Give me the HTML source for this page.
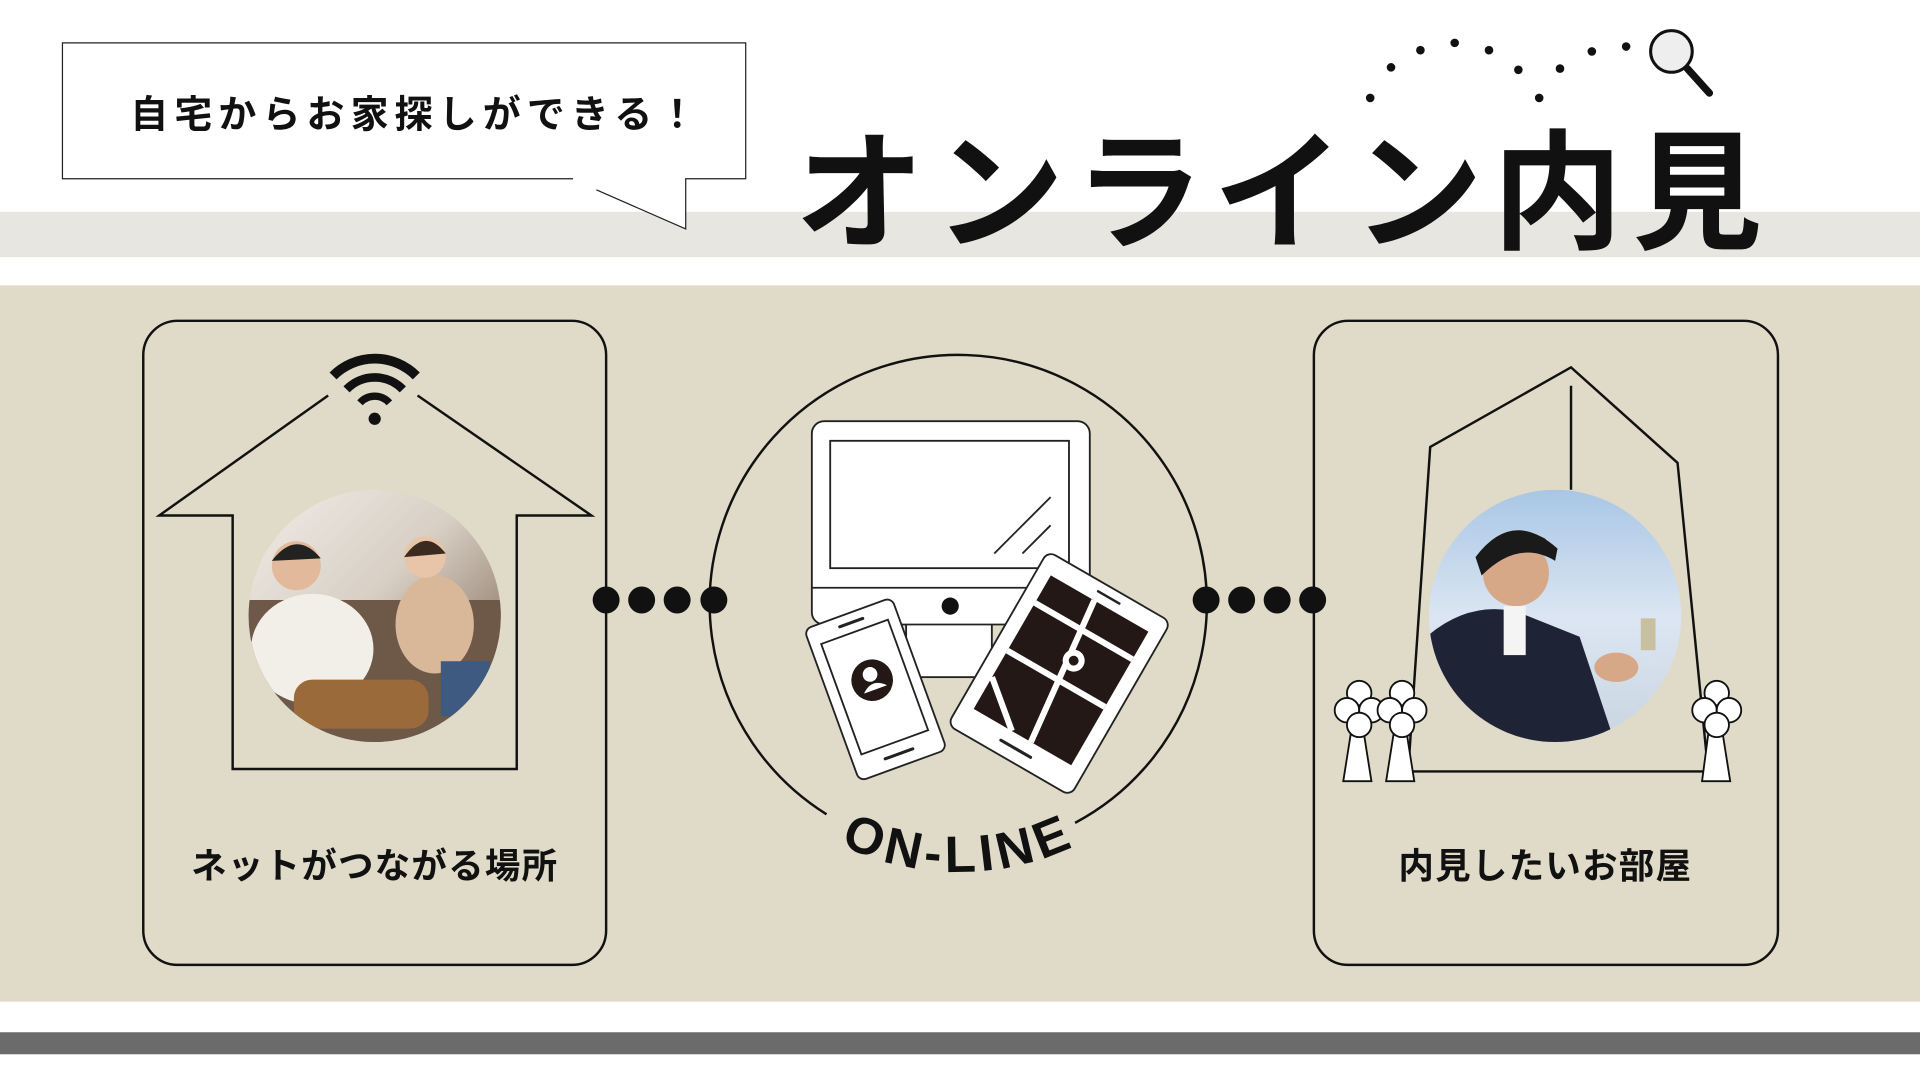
<!DOCTYPE html>
<html><head><meta charset="utf-8"><style>
html,body{margin:0;padding:0;background:#fff;width:1920px;height:1080px;overflow:hidden}
svg{display:block}
text{font-family:"Liberation Sans","Noto Sans CJK JP",sans-serif;font-weight:bold}
</style></head><body>
<svg width="1920" height="1080" viewBox="0 0 1568 882" xmlns="http://www.w3.org/2000/svg">
<defs>
<linearGradient id="p1" x1="0" y1="0" x2="1" y2="1"><stop offset="0" stop-color="#f0ede8"/><stop offset="0.45" stop-color="#d8cfc4"/><stop offset="1" stop-color="#6a5240"/></linearGradient>
<linearGradient id="p2" x1="0" y1="0" x2="0" y2="1"><stop offset="0" stop-color="#a9c6e6"/><stop offset="0.5" stop-color="#dbe6f2"/><stop offset="1" stop-color="#c8d4e0"/></linearGradient>
<clipPath id="c1"><circle cx="306" cy="503" r="103"/></clipPath>
<clipPath id="c2"><circle cx="1270" cy="503" r="103"/></clipPath>
<path id="arc" d="M 561 490 A 222 222 0 0 0 1005 490"/>
</defs>
<rect x="0" y="173" width="1568" height="37" fill="#e7e6e1"/>
<rect x="0" y="233" width="1568" height="585" fill="#dfdbc8"/>
<rect x="0" y="843" width="1568" height="18" fill="#6b6b6b"/>
<!-- bubble -->
<path d="M468 146 L51 146 L51 35 L609 35 L609 146 L560 146 L560 187 L487 155" fill="#fff" stroke="#222" stroke-width="1"/>
<text x="340" y="104" font-size="31" text-anchor="middle" letter-spacing="5" fill="#111">自宅からお家探しができる！</text>
<!-- title -->
<text x="1048" y="195" font-size="106" text-anchor="middle" letter-spacing="8" font-weight="900" fill="#111">オンライン内見</text>
<!-- dots arc + magnifier -->
<g fill="#111">
<circle cx="1119" cy="80" r="3.5"/><circle cx="1136" cy="55" r="3.5"/><circle cx="1160" cy="41" r="3.5"/><circle cx="1188" cy="35" r="3.5"/><circle cx="1216" cy="41" r="3.5"/><circle cx="1240" cy="57" r="3.5"/><circle cx="1257" cy="80" r="3.5"/><circle cx="1274" cy="56" r="3.5"/><circle cx="1300" cy="42" r="3.5"/><circle cx="1328" cy="38" r="3.5"/>
</g>
<circle cx="1365" cy="42" r="17" fill="#eee" stroke="#111" stroke-width="2.5"/>
<line x1="1378" y1="56" x2="1396" y2="76" stroke="#111" stroke-width="6" stroke-linecap="round"/>
<!-- panels -->
<rect x="117" y="262" width="378" height="526" rx="28" fill="none" stroke="#111" stroke-width="2"/>
<rect x="1073" y="262" width="379" height="526" rx="28" fill="none" stroke="#111" stroke-width="2"/>
<!-- left house -->
<path d="M268 323 L130 421 L190 421 L190 628 L422 628 L422 421 L483 421 L341 323" fill="none" stroke="#111" stroke-width="2"/>
<path d="M272 307 A48 48 0 0 1 340 307" fill="none" stroke="#111" stroke-width="8"/>
<path d="M283 318 A32 32 0 0 1 329 318" fill="none" stroke="#111" stroke-width="7"/>
<path d="M294 329 A16 16 0 0 1 318 329" fill="none" stroke="#111" stroke-width="6"/>
<circle cx="306" cy="342" r="5" fill="#111"/>
<g clip-path="url(#c1)">
<rect x="200" y="400" width="212" height="210" fill="url(#p1)"/>
<rect x="200" y="490" width="212" height="120" fill="#6e5848"/>
<ellipse cx="255" cy="530" rx="50" ry="45" fill="#f2efe9"/>
<circle cx="242" cy="462" r="20" fill="#e2b99a"/><path d="M222 458 Q242 432 262 456 Z" fill="#222"/>
<rect x="240" y="555" width="110" height="40" rx="15" fill="#9a6a3a"/>
<ellipse cx="355" cy="510" rx="32" ry="40" fill="#d8b898"/>
<circle cx="347" cy="455" r="17" fill="#e8c4a8"/><path d="M330 455 Q347 430 364 452 Z" fill="#3a2a20"/>
<rect x="360" y="540" width="40" height="45" fill="#3f5a80"/>
</g>
<text x="306" y="717" font-size="29" text-anchor="middle" letter-spacing="1" fill="#111">ネットがつながる場所</text>
<!-- connectors -->
<g fill="#111">
<circle cx="495" cy="490" r="11"/><circle cx="524" cy="490" r="11"/><circle cx="553" cy="490" r="11"/><circle cx="583" cy="490" r="11"/>
<circle cx="985" cy="490" r="11"/><circle cx="1014" cy="490" r="11"/><circle cx="1043" cy="490" r="11"/><circle cx="1072" cy="490" r="11"/>
</g>
<!-- online circle -->
<path d="M675 665 A203 203 0 1 1 878 672" fill="none" stroke="#111" stroke-width="2"/>
<text font-size="42" fill="#111" letter-spacing="4"><textPath href="#arc" startOffset="50%" text-anchor="middle">ON-LINE</textPath></text>
<!-- monitor -->
<rect x="740" y="505" width="70" height="48" fill="#fff" stroke="#222" stroke-width="1.5"/>
<rect x="663" y="344" width="227" height="166" rx="10" fill="#fff" stroke="#222" stroke-width="1.5"/>
<line x1="663" y1="480" x2="890" y2="480" stroke="#222" stroke-width="1.5"/>
<rect x="678" y="360" width="195" height="104" fill="#fff" stroke="#222" stroke-width="1.5"/>
<line x1="812" y1="452" x2="858" y2="406" stroke="#222" stroke-width="1.5"/>
<line x1="835" y1="452" x2="858" y2="429" stroke="#222" stroke-width="1.5"/>
<circle cx="776" cy="495" r="7" fill="#111"/>
<!-- phone -->
<g transform="translate(715,563) rotate(-20)">
<rect x="-38" y="-66" width="76" height="132" rx="6" fill="#fff" stroke="#222" stroke-width="1.5"/>
<rect x="-29" y="-50" width="58" height="96" fill="#fff" stroke="#222" stroke-width="1.5"/>
<line x1="-10" y1="-58" x2="10" y2="-58" stroke="#222" stroke-width="2.5" stroke-linecap="round"/>
<line x1="-12" y1="56" x2="12" y2="56" stroke="#222" stroke-width="2.5" stroke-linecap="round"/>
<circle cx="0" cy="-8" r="17" fill="#231815"/>
<circle cx="0" cy="-13" r="6" fill="#fff"/>
<path d="M-10 0 Q0 -10 10 0 Z" fill="#fff"/>
</g>
<!-- tablet -->
<g transform="translate(865,550) rotate(30)">
<rect x="-58" y="-82" width="116" height="164" rx="7" fill="#fff" stroke="#222" stroke-width="1.5"/>
<rect x="-46" y="-66" width="92" height="126" fill="#231815"/>
<line x1="-46" y1="-40" x2="46" y2="-40" stroke="#fff" stroke-width="5"/>
<line x1="-46" y1="5" x2="46" y2="5" stroke="#fff" stroke-width="5"/>
<line x1="-5" y1="-66" x2="8" y2="60" stroke="#fff" stroke-width="5"/>
<line x1="-46" y1="30" x2="-10" y2="60" stroke="#fff" stroke-width="5"/>
<circle cx="5" cy="-15" r="9" fill="#fff"/><circle cx="5" cy="-15" r="4" fill="#231815"/>
<line x1="-14" y1="71" x2="14" y2="71" stroke="#222" stroke-width="2.5" stroke-linecap="round"/>
<line x1="-6" y1="-74" x2="14" y2="-74" stroke="#222" stroke-width="2" stroke-linecap="round"/>
</g>
<!-- right house -->
<path d="M1150 630 L1168 365 L1283 300 L1370 378 L1395 630 Z" fill="none" stroke="#111" stroke-width="2"/>
<line x1="1283" y1="315" x2="1283" y2="400" stroke="#111" stroke-width="2"/>
<g clip-path="url(#c2)">
<rect x="1165" y="400" width="210" height="210" fill="url(#p2)"/>
<path d="M1165 520 Q1200 490 1240 500 L1290 520 L1320 610 L1165 610 Z" fill="#1e2436"/>
<circle cx="1238" cy="468" r="27" fill="#d7a888"/><path d="M1210 462 Q1235 420 1268 450 L1262 440 Q1240 428 1212 455 Z" fill="#1a1a1a"/>
<path d="M1205 455 Q1235 415 1272 448 L1270 458 Q1240 440 1210 470 Z" fill="#1a1a1a"/>
<rect x="1228" y="495" width="18" height="40" fill="#f4f4f4"/>
<ellipse cx="1320" cy="545" rx="18" ry="12" fill="#d7a888"/>
<rect x="1340" y="505" width="12" height="26" fill="#c8c0a0"/>
</g>
<g fill="#fff" stroke="#111" stroke-width="1.5">
<path d="M1103 600 L1097 638 L1120 638 L1114 600 Z"/>
<path d="M1138 600 L1132 638 L1155 638 L1149 600 Z"/>
<path d="M1395 600 L1390 638 L1413 638 L1407 600 Z"/>
<g><circle cx="1110" cy="566" r="10"/><circle cx="1100" cy="580" r="10"/><circle cx="1120" cy="580" r="10"/><circle cx="1110" cy="592" r="10"/></g>
<g><circle cx="1145" cy="566" r="10"/><circle cx="1135" cy="580" r="10"/><circle cx="1155" cy="580" r="10"/><circle cx="1145" cy="592" r="10"/></g>
<g><circle cx="1402" cy="566" r="10"/><circle cx="1392" cy="580" r="10"/><circle cx="1412" cy="580" r="10"/><circle cx="1402" cy="592" r="10"/></g>
</g>
<text x="1262" y="717" font-size="29" text-anchor="middle" letter-spacing="1" fill="#111">内見したいお部屋</text>
</svg>
</body></html>
